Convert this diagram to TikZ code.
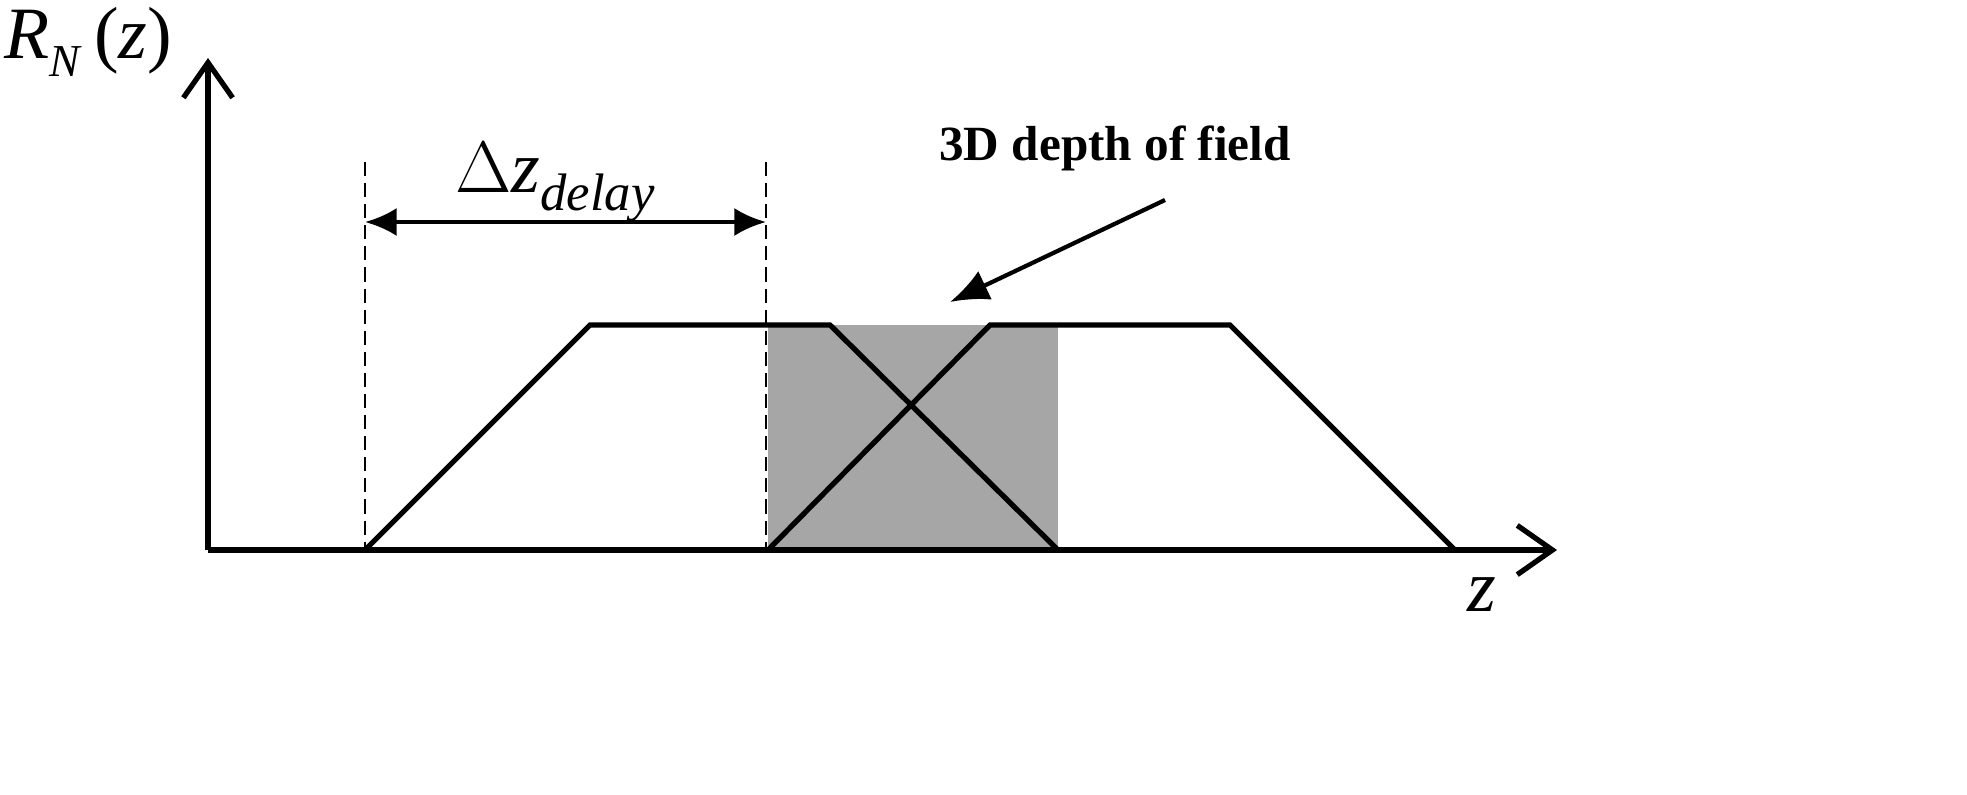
\documentclass[tikz,border=0pt]{standalone}
\usepackage{fontspec}
\setmainfont{Liberation Serif}
\usetikzlibrary{arrows.meta}
\begin{document}
\begin{tikzpicture}[x=0.2845pt,y=-0.2845pt,
  thick line/.style={line width=1.5pt},
  dash line/.style={line width=0.6pt,dash pattern=on 4pt off 2pt},
  lbl/.style={inner sep=0pt,font=\fontsize{21}{24}\selectfont}]
\fill[white] (0,0) rectangle (1967,794);
\fill[fill={rgb,255:red,166;green,166;blue,166}] (768,325) rectangle (1058,550);
\coordinate (O) at (208,550);
\coordinate (Ytop) at (208,58);
\coordinate (Xend) at (1557,550);
\draw[thick line,-{Straight Barb[length=10pt,width=14pt]}] (O) -- (Ytop);
\draw[thick line,-{Straight Barb[length=10pt,width=14pt]}] (O) -- (Xend);
\draw[thick line,line join=miter] (365,550) -- (590,325) -- (830,325) -- (1058,550);
\draw[thick line,line join=miter] (768,550) -- (990,325) -- (1230,325) -- (1455,550);
\coordinate (d1t) at (365,162); \coordinate (d1b) at (365,550);
\coordinate (d2t) at (766,162); \coordinate (d2b) at (766,550);
\draw[dash line] (d1t) -- (d1b);
\draw[dash line] (d2t) -- (d2b);
\coordinate (a1) at (365,222); \coordinate (a2) at (766,222);
\draw[line width=1.2pt,{Latex[length=9pt,width=8pt]}-{Latex[length=9pt,width=8pt]}] (a1) -- (a2);
\node[lbl] (dz) at (555,182) {$\Delta$\textit{z}\raisebox{-5pt}{\fontsize{15}{18}\selectfont\textit{delay}}};
\node[inner sep=0pt,font=\fontsize{14}{17}\selectfont\bfseries] (dof) at (1115,148) {3D depth of field};
\coordinate (p1) at (1165,200); \coordinate (p2) at (950,302);
\draw[line width=1.2pt,-{Latex[length=11pt,width=9pt]}] (p1) -- (p2);
\node[lbl] (rn) at (88,42) {\textit{R}\raisebox{-5pt}{\fontsize{13}{15}\selectfont\textit{N}}\,(\textit{z})};
\node[lbl] (zl) at (1482,595) {\textit{z}};
\useasboundingbox (0,0) rectangle (1967,794);
\end{tikzpicture}
\end{document}
